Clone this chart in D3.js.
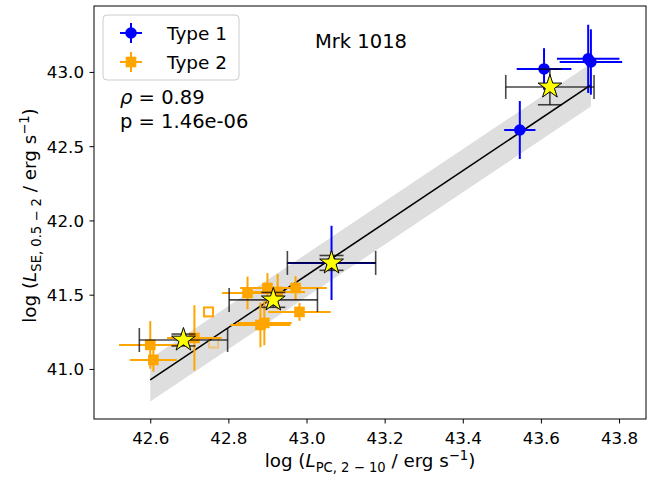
<!DOCTYPE html>
<html><head><meta charset="utf-8">
<script src="https://cdn.jsdelivr.net/npm/d3@7"></script>
<style>
body{margin:0;background:#fff;}
text{font-family:"DejaVu Sans",sans-serif;}
</style></head>
<body><svg id="c" width="658" height="477"></svg>
<script>
// ---- data ----
const xTicks = [42.6, 42.8, 43.0, 43.2, 43.4, 43.6, 43.8];
const yTicks = [41.0, 41.5, 42.0, 42.5, 43.0];
// Type 1 (blue)
const t1x    = [43.546, 43.608, 43.721, 43.728, 43.064];
const t1y    = [42.609, 43.020, 43.088, 43.067, 41.714];
const t1xerr = [0.040, 0.070, 0.080, 0.080, 0.113];
const t1yerr = [0.195, 0.140, 0.230, 0.220, 0.250];
// Type 2 (orange, filled)
const t2x    = [42.600, 42.608, 42.713, 42.849, 42.900, 42.926, 42.972, 42.982, 42.882, 42.892];
const t2y    = [41.162, 41.061, 41.209, 41.512, 41.545, 41.519, 41.545, 41.384, 41.296, 41.310];
const t2xerr = [0.080, 0.060, 0.070, 0.065, 0.070, 0.070, 0.080, 0.080, 0.077, 0.070];
const t2yerr = [0.160, 0.080, 0.220, 0.110, 0.100, 0.120, 0.080, 0.060, 0.150, 0.150];
// Type 2 (hollow)
const t2hx     = [42.749, 42.762];
const t2hy     = [41.384, 41.175];
const t2hAlpha = [1.0, 0.45];
// binned averages (stars)
const sx    = [42.685, 42.915, 43.064, 43.623];
const sy    = [41.195, 41.465, 41.714, 42.899];
const sxerr = [0.113, 0.113, 0.113, 0.113];
const syerr = [0.040, 0.050, 0.050, 0.120];
// fit
const fitSlope = 1.761, fitRef = 42.6, fitAtRef = 40.926, fitRange = [42.6, 43.728], fitBand = 0.145;
const rhoText = "0.89", pText = "1.46e-06", title = "Mrk 1018";

// ---- layout ----
const svg = d3.select("#c");
const L = 94, R = 646, T = 6, B = 419;
const x = d3.scaleLinear().domain([42.456, 43.869]).range([L, R]);
const y = d3.scaleLinear().domain([40.663, 43.444]).range([B, T]);
const FS = 16.7, FA = 19.5, FL = 18.5, FX = 18.3;
const fit = v => fitAtRef + fitSlope * (v - fitRef);

svg.append("clipPath").attr("id","pc").append("rect")
  .attr("x",L).attr("y",T).attr("width",R-L).attr("height",B-T);
const g = svg.append("g").attr("clip-path","url(#pc)");

// band
const bx = fitRange;
const bandPts = [[bx[0], fit(bx[0])+fitBand],[bx[1], fit(bx[1])+fitBand],[bx[1], fit(bx[1])-fitBand],[bx[0], fit(bx[0])-fitBand]];
g.append("path").attr("d", d3.line().x(d=>x(d[0])).y(d=>y(d[1]))(bandPts)+"Z")
  .attr("fill","#dedede");
// fit line
g.append("line").attr("x1",x(bx[0])).attr("y1",y(fit(bx[0]))).attr("x2",x(bx[1])).attr("y2",y(fit(bx[1])))
  .attr("stroke","#000").attr("stroke-width",1.6);

function errbars(xs, ys, xe, ye, color, sw, cap, op){
  xs.forEach((v,i)=>{
    const gg = g.append("g").attr("stroke",color).attr("stroke-width",sw).attr("stroke-opacity",op||1);
    gg.append("line").attr("x1",x(v-xe[i])).attr("x2",x(v+xe[i])).attr("y1",y(ys[i])).attr("y2",y(ys[i]));
    gg.append("line").attr("x1",x(v)).attr("x2",x(v)).attr("y1",y(ys[i]-ye[i])).attr("y2",y(ys[i]+ye[i]));
    if(cap){
      [v-xe[i], v+xe[i]].forEach(c=>gg.append("line").attr("x1",x(c)).attr("x2",x(c)).attr("y1",y(ys[i])-cap).attr("y2",y(ys[i])+cap));
      [ys[i]-ye[i], ys[i]+ye[i]].forEach(c=>gg.append("line").attr("y1",y(c)).attr("y2",y(c)).attr("x1",x(v)-cap).attr("x2",x(v)+cap));
    }
  });
}
const ORANGE = "#ffa500", BLUE = "#0000ff";
// orange
errbars(t2x,t2y,t2xerr,t2yerr,ORANGE,2,0);
t2x.forEach((v,i)=>g.append("rect").attr("x",x(v)-5.3).attr("y",y(t2y[i])-5.3).attr("width",10.6).attr("height",10.6).attr("fill",ORANGE));
t2hx.forEach((v,i)=>g.append("rect").attr("x",x(v)-4.5).attr("y",y(t2hy[i])-4.5).attr("width",9).attr("height",9)
  .attr("fill","none").attr("stroke",ORANGE).attr("stroke-width",2).attr("stroke-opacity",t2hAlpha[i]));
// blue
errbars(t1x,t1y,t1xerr,t1yerr,BLUE,2,0);
t1x.forEach((v,i)=>g.append("circle").attr("cx",x(v)).attr("cy",y(t1y[i])).attr("r",5.8).attr("fill",BLUE));
// stars
errbars(sx,sy,sxerr,syerr,"#000",1.6,12,0.72);
function starPath(cx,cy,R){
  const r = R*0.382; let p=[];
  for(let k=0;k<10;k++){const a=-Math.PI/2+k*Math.PI/5; const rr=k%2?r:R; p.push([cx+rr*Math.cos(a),cy+rr*Math.sin(a)]);}
  return "M"+p.map(q=>q.join(",")).join("L")+"Z";
}
sx.forEach((v,i)=>g.append("path").attr("d",starPath(x(v),y(sy[i]),12.5)).attr("fill","#ffff00").attr("stroke","#000").attr("stroke-width",1));

// axes
const xa = svg.append("g").attr("transform",`translate(0,${B})`)
  .call(d3.axisBottom(x).tickValues(xTicks).tickFormat(d3.format(".1f")).tickSize(4.5).tickSizeOuter(0));
const ya = svg.append("g").attr("transform",`translate(${L},0)`)
  .call(d3.axisLeft(y).tickValues(yTicks).tickFormat(d3.format(".1f")).tickSize(4.5).tickSizeOuter(0));
[xa,ya].forEach(a=>{a.select(".domain").remove(); a.selectAll("line").attr("stroke","#000").attr("stroke-width",1);
  a.selectAll("text").attr("font-size",FS).attr("font-family","DejaVu Sans").attr("fill","#000");});
xa.selectAll("text").attr("dy","1.05em");
ya.selectAll("text").attr("dx","-0.15em").attr("dy","0.36em");
svg.append("rect").attr("x",L).attr("y",T).attr("width",R-L).attr("height",B-T).attr("fill","none").attr("stroke","#000").attr("stroke-width",1);

// axis labels
function label(t, sub){
  t.append("tspan").text("log (");
  t.append("tspan").attr("font-style","italic").text("L");
  t.append("tspan").attr("font-size",FX*0.72).attr("dy",4.5).text(sub);
  t.append("tspan").attr("dy",-4.5).text(" / erg s");
  t.append("tspan").attr("font-size",FX*0.72).attr("dy",-7.5).text("−1");
  t.append("tspan").attr("dy",7.5).text(")");
}
const xl = svg.append("text").attr("x",370).attr("y",467).attr("text-anchor","middle").attr("font-size",FX);
label(xl,"PC,  2 − 10");
const yl = svg.append("text").attr("transform",`translate(36,${(T+B)/2+3}) rotate(-90)`).attr("text-anchor","middle").attr("font-size",FX);
label(yl,"SE,  0.5 − 2");

// annotations
svg.append("text").attr("x",361).attr("y",48).attr("text-anchor","middle").attr("font-size",FA).text(title);
const rt = svg.append("text").attr("x",120).attr("y",104).attr("font-size",FA);
rt.append("tspan").attr("font-style","italic").text("ρ");
rt.append("tspan").text(" = "+rhoText);
svg.append("text").attr("x",120).attr("y",128).attr("font-size",FA).text("p = "+pText);

// legend
svg.append("rect").attr("x",103).attr("y",15).attr("width",136).attr("height",65).attr("rx",4)
  .attr("fill","#fff").attr("fill-opacity",0.8).attr("stroke","#cccccc").attr("stroke-width",1);
const legItems = [{lab:"Type 1", c:BLUE, shape:"circle", yy:33},{lab:"Type 2", c:ORANGE, shape:"square", yy:62}];
legItems.forEach(d=>{
  const lg = svg.append("g").attr("stroke",d.c).attr("stroke-width",2);
  lg.append("line").attr("x1",120).attr("x2",142).attr("y1",d.yy).attr("y2",d.yy);
  lg.append("line").attr("x1",131).attr("x2",131).attr("y1",d.yy-10).attr("y2",d.yy+10);
  if(d.shape==="circle") svg.append("circle").attr("cx",131).attr("cy",d.yy).attr("r",5.8).attr("fill",d.c);
  else svg.append("rect").attr("x",131-5.3).attr("y",d.yy-5.3).attr("width",10.6).attr("height",10.6).attr("fill",d.c);
  svg.append("text").attr("x",167).attr("y",d.yy+6.5).attr("font-size",FL).text(d.lab);
});
</script></body></html>
